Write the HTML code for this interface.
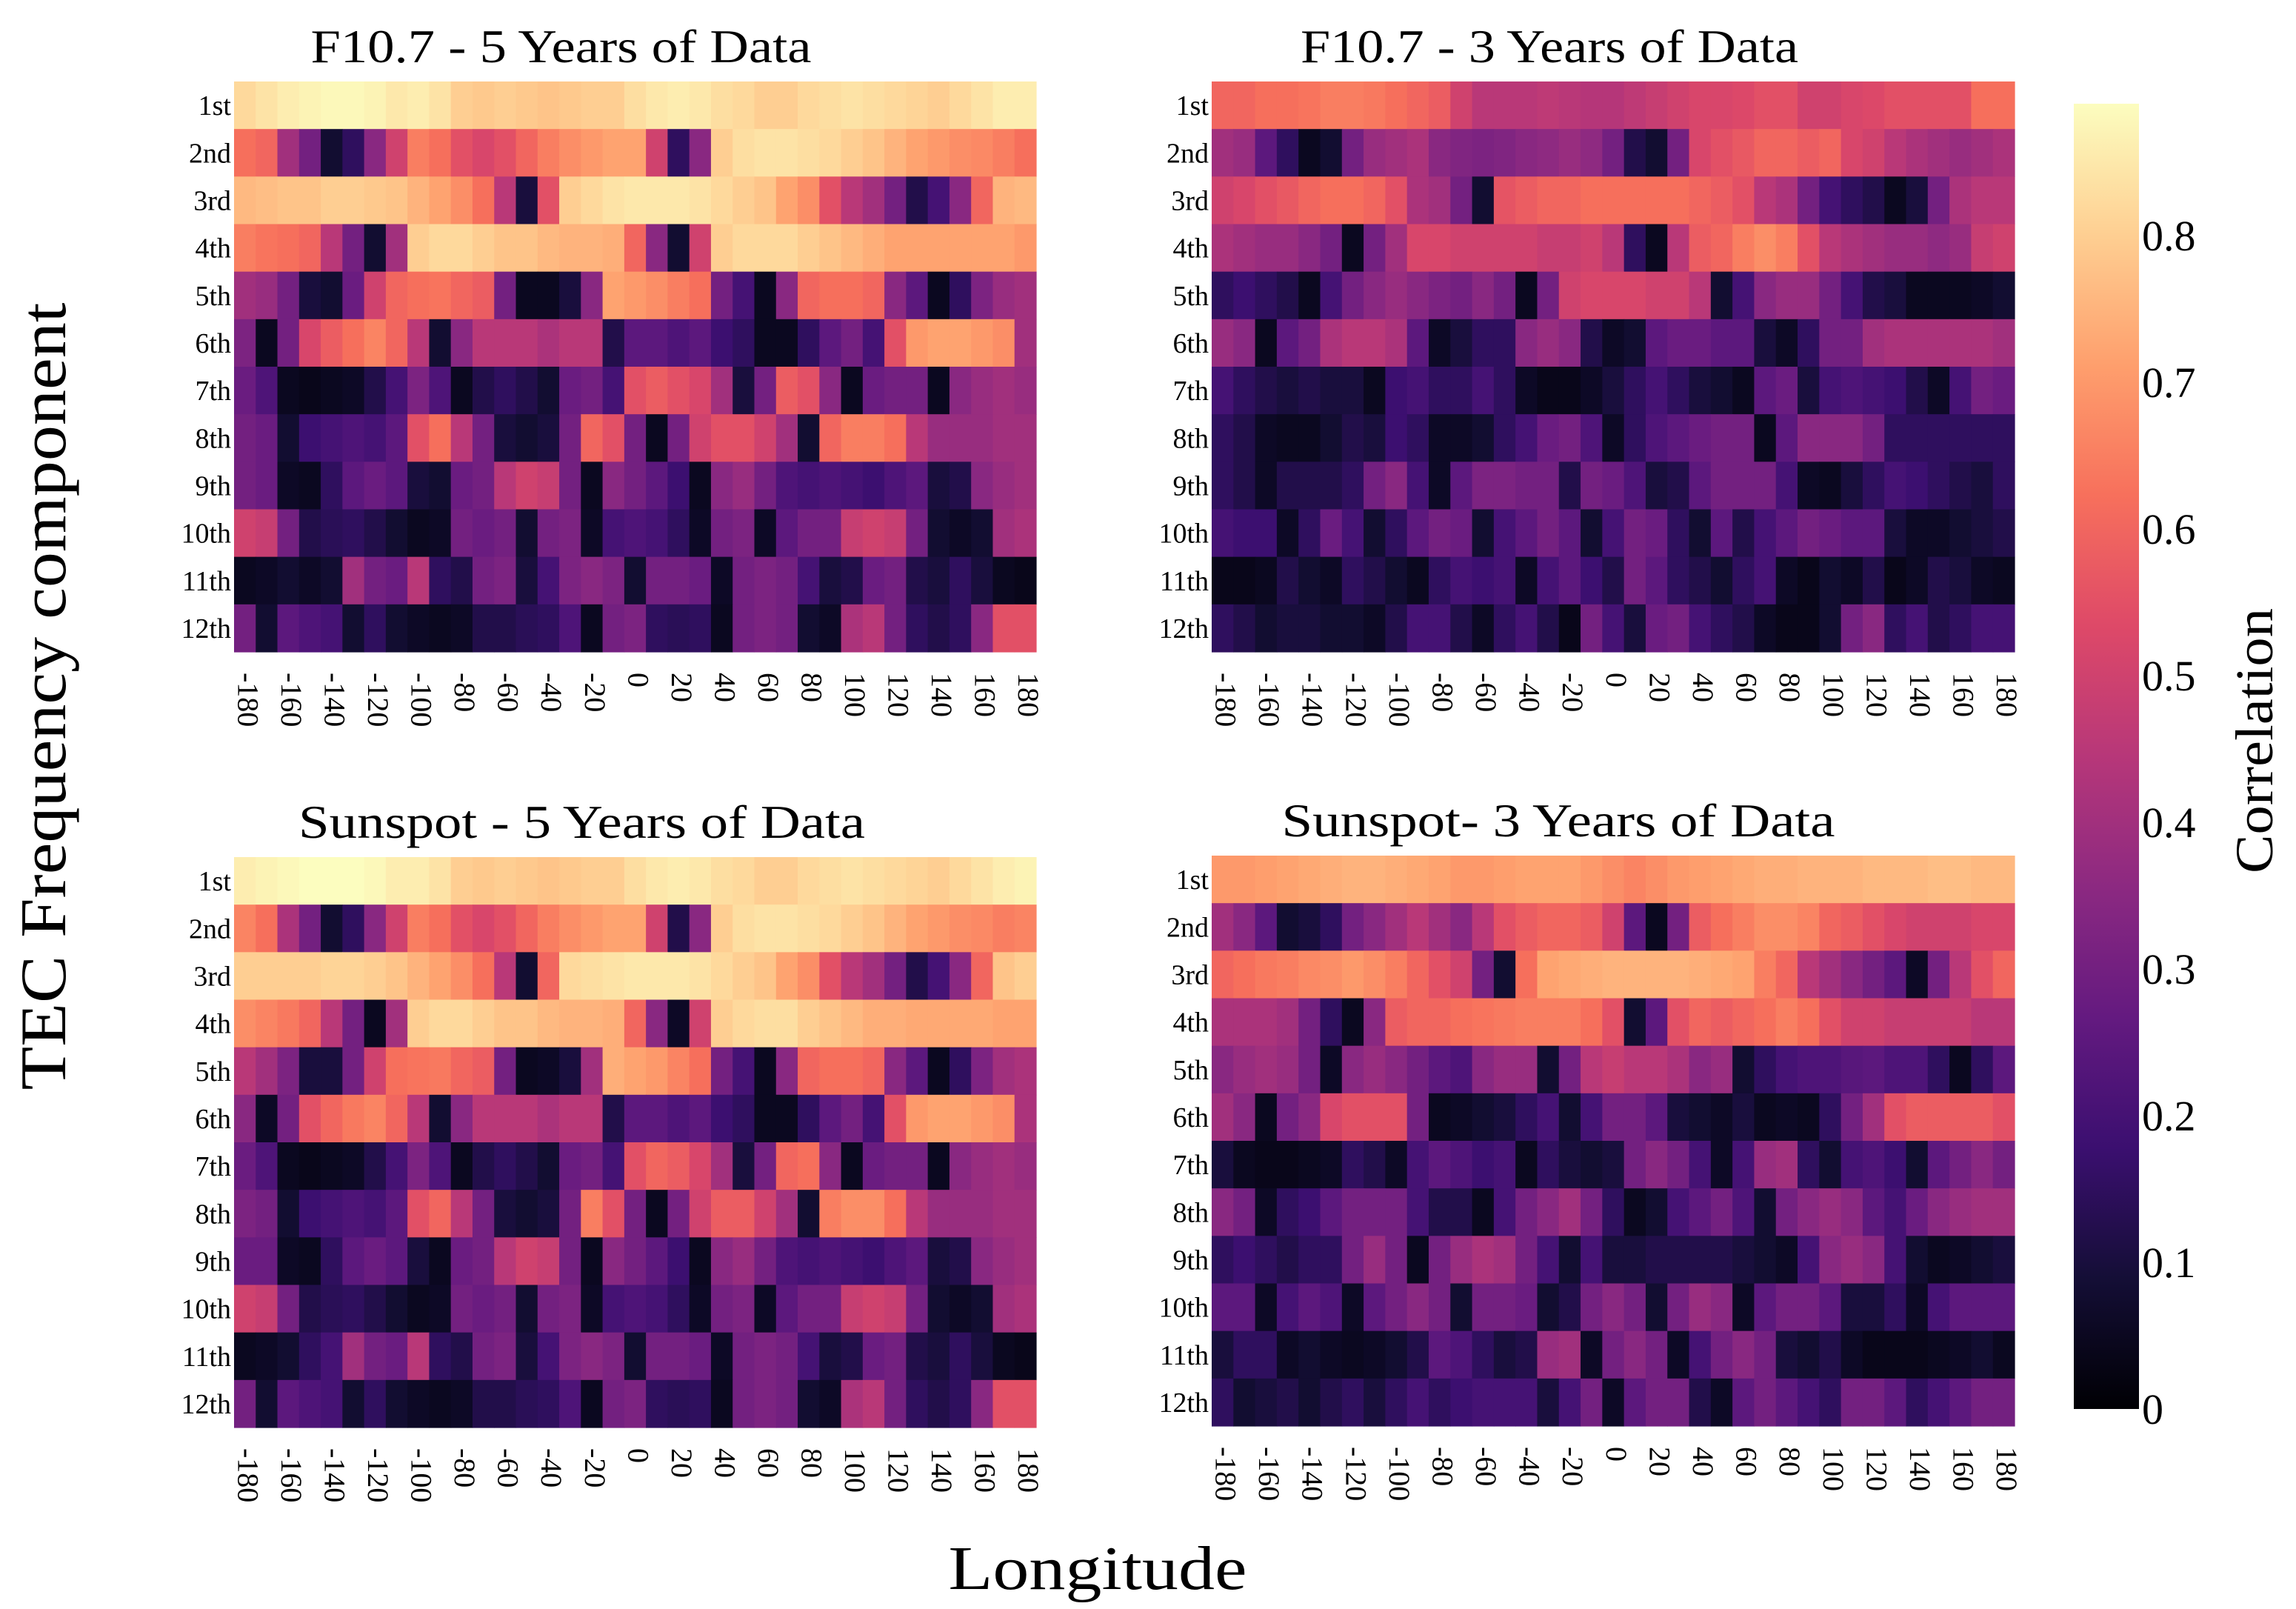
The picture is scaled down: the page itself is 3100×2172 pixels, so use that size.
<!DOCTYPE html>
<html><head><meta charset="utf-8">
<style>
html,body{margin:0;padding:0;background:#fff;}
svg{display:block;font-family:"Liberation Serif",serif;}
</style></head>
<body>
<svg id="fig" width="3100" height="2172" viewBox="0 0 3100 2172" xmlns="http://www.w3.org/2000/svg">
<rect width="3100" height="2172" fill="#fff"/>
<defs>
<linearGradient id="magma" x1="0" y1="1" x2="0" y2="0">
<stop offset="0" stop-color="#000004"/><stop offset="0.1" stop-color="#140e36"/><stop offset="0.2" stop-color="#3b0f70"/><stop offset="0.3" stop-color="#641a80"/><stop offset="0.4" stop-color="#8c2981"/><stop offset="0.5" stop-color="#b73779"/><stop offset="0.6" stop-color="#de4968"/><stop offset="0.7" stop-color="#f7705c"/><stop offset="0.8" stop-color="#fe9f6d"/><stop offset="0.9" stop-color="#fecf92"/><stop offset="1" stop-color="#fcfdbf"/>
</linearGradient>
</defs>
<g id="panels"></g>
<text x="0" y="0" transform="translate(88,940) rotate(-90)" text-anchor="middle" font-size="88" textLength="1063" lengthAdjust="spacingAndGlyphs">TEC Frequency component</text>
<text x="1482" y="2145" text-anchor="middle" font-size="84" textLength="403" lengthAdjust="spacingAndGlyphs">Longitude</text>
<g>
<rect x="2800" y="140" width="88" height="1762" fill="url(#magma)"/>
<g id="cbticks"></g>
<text transform="translate(3068,1000) rotate(-90)" text-anchor="middle" font-size="72" textLength="358" lengthAdjust="spacingAndGlyphs">Correlation</text>
</g>
</svg>
<script>
const rowLabels = ["1st","2nd","3rd","4th","5th","6th","7th","8th","9th","10th","11th","12th"];
const lonTicks = [-180,-160,-140,-120,-100,-80,-60,-40,-20,0,20,40,60,80,100,120,140,160,180];
const lonCells = [-180,-170,-160,-150,-140,-130,-120,-110,-100,-90,-80,-70,-60,-50,-40,-30,-20,-10,0,10,20,30,40,50,60,70,80,90,100,110,120,130,140,150,160,170,180];
const cbTicks = [0,0.1,0.2,0.3,0.4,0.5,0.6,0.7,0.8];
const cbTickLabels = ["0","0.1","0.2","0.3","0.4","0.5","0.6","0.7","0.8"];
const titles = ["F10.7 - 5 Years of Data","F10.7 - 3 Years of Data","Sunspot - 5 Years of Data","Sunspot- 3 Years of Data"];

const f10_5yr = [
[0.82,0.84,0.86,0.87,0.88,0.88,0.87,0.85,0.86,0.84,0.8,0.79,0.8,0.79,0.78,0.79,0.8,0.8,0.83,0.85,0.86,0.85,0.83,0.82,0.8,0.8,0.82,0.83,0.84,0.83,0.82,0.81,0.8,0.82,0.84,0.86,0.86],
[0.62,0.6,0.4,0.3,0.08,0.15,0.35,0.5,0.65,0.62,0.55,0.52,0.55,0.6,0.65,0.68,0.7,0.72,0.72,0.5,0.15,0.35,0.8,0.83,0.84,0.84,0.83,0.82,0.8,0.78,0.75,0.72,0.7,0.68,0.67,0.65,0.62],
[0.76,0.77,0.78,0.78,0.8,0.8,0.79,0.78,0.75,0.72,0.68,0.62,0.45,0.1,0.55,0.8,0.82,0.84,0.85,0.85,0.85,0.84,0.82,0.8,0.78,0.72,0.68,0.55,0.45,0.4,0.3,0.12,0.2,0.35,0.6,0.75,0.76],
[0.65,0.63,0.62,0.6,0.45,0.3,0.08,0.4,0.8,0.82,0.82,0.8,0.78,0.78,0.76,0.75,0.75,0.74,0.6,0.35,0.08,0.5,0.8,0.82,0.82,0.82,0.8,0.78,0.76,0.74,0.72,0.72,0.72,0.72,0.72,0.72,0.7],
[0.4,0.38,0.3,0.1,0.08,0.28,0.5,0.6,0.62,0.63,0.6,0.58,0.3,0.05,0.05,0.1,0.35,0.72,0.7,0.68,0.65,0.62,0.3,0.2,0.05,0.35,0.6,0.62,0.62,0.6,0.35,0.25,0.05,0.15,0.32,0.38,0.4],
[0.32,0.05,0.3,0.52,0.58,0.62,0.66,0.6,0.45,0.08,0.35,0.45,0.45,0.45,0.42,0.45,0.45,0.12,0.25,0.25,0.22,0.25,0.18,0.15,0.05,0.05,0.15,0.25,0.3,0.2,0.55,0.7,0.72,0.72,0.7,0.68,0.4],
[0.28,0.22,0.05,0.04,0.05,0.06,0.12,0.2,0.32,0.22,0.05,0.12,0.15,0.12,0.08,0.28,0.3,0.2,0.55,0.58,0.55,0.52,0.4,0.1,0.3,0.58,0.55,0.35,0.05,0.28,0.3,0.3,0.05,0.35,0.38,0.4,0.38],
[0.3,0.28,0.08,0.18,0.2,0.22,0.2,0.25,0.55,0.62,0.45,0.3,0.1,0.08,0.1,0.3,0.6,0.55,0.3,0.05,0.3,0.5,0.55,0.55,0.5,0.4,0.08,0.6,0.65,0.65,0.62,0.45,0.38,0.38,0.38,0.4,0.4],
[0.3,0.28,0.06,0.05,0.15,0.25,0.28,0.25,0.1,0.08,0.28,0.3,0.45,0.5,0.48,0.3,0.05,0.35,0.3,0.25,0.18,0.05,0.35,0.38,0.3,0.22,0.2,0.22,0.2,0.18,0.22,0.25,0.1,0.12,0.35,0.38,0.4],
[0.5,0.48,0.3,0.12,0.14,0.15,0.12,0.08,0.05,0.06,0.3,0.28,0.3,0.08,0.3,0.32,0.06,0.2,0.22,0.2,0.15,0.06,0.3,0.32,0.06,0.25,0.3,0.3,0.48,0.5,0.48,0.3,0.08,0.06,0.08,0.4,0.42],
[0.05,0.06,0.08,0.06,0.08,0.4,0.3,0.28,0.45,0.15,0.12,0.3,0.32,0.1,0.2,0.32,0.35,0.32,0.08,0.3,0.3,0.28,0.06,0.3,0.32,0.3,0.2,0.1,0.12,0.28,0.3,0.12,0.1,0.15,0.1,0.05,0.04],
[0.3,0.08,0.25,0.22,0.2,0.08,0.15,0.08,0.06,0.05,0.06,0.12,0.12,0.14,0.15,0.22,0.05,0.3,0.32,0.15,0.14,0.15,0.05,0.3,0.32,0.3,0.08,0.06,0.42,0.45,0.3,0.15,0.12,0.15,0.35,0.55,0.55]
];
const f10_3yr = [
[0.6,0.6,0.62,0.62,0.63,0.65,0.65,0.64,0.62,0.6,0.58,0.5,0.45,0.45,0.45,0.46,0.45,0.44,0.44,0.46,0.48,0.5,0.52,0.52,0.53,0.55,0.55,0.5,0.5,0.52,0.53,0.55,0.55,0.55,0.55,0.62,0.62],
[0.4,0.38,0.25,0.15,0.05,0.08,0.3,0.38,0.4,0.42,0.35,0.33,0.32,0.33,0.35,0.36,0.38,0.36,0.3,0.12,0.08,0.3,0.52,0.55,0.57,0.6,0.6,0.58,0.6,0.52,0.5,0.45,0.42,0.4,0.38,0.4,0.42],
[0.5,0.52,0.55,0.57,0.6,0.62,0.62,0.6,0.55,0.42,0.4,0.3,0.08,0.56,0.58,0.6,0.6,0.62,0.62,0.62,0.62,0.62,0.6,0.58,0.55,0.45,0.42,0.3,0.2,0.15,0.12,0.05,0.1,0.3,0.42,0.45,0.45],
[0.42,0.4,0.38,0.38,0.35,0.3,0.05,0.3,0.4,0.52,0.52,0.5,0.5,0.5,0.5,0.48,0.48,0.5,0.45,0.15,0.05,0.45,0.58,0.6,0.65,0.68,0.65,0.55,0.45,0.42,0.4,0.38,0.38,0.36,0.38,0.48,0.5],
[0.15,0.18,0.15,0.12,0.05,0.2,0.3,0.35,0.38,0.35,0.32,0.3,0.35,0.3,0.05,0.3,0.5,0.52,0.52,0.52,0.5,0.5,0.45,0.08,0.2,0.35,0.38,0.38,0.3,0.2,0.12,0.1,0.05,0.05,0.05,0.06,0.08],
[0.38,0.35,0.05,0.25,0.3,0.42,0.45,0.45,0.42,0.25,0.06,0.1,0.15,0.15,0.35,0.38,0.35,0.12,0.06,0.08,0.25,0.28,0.28,0.25,0.25,0.1,0.06,0.15,0.3,0.3,0.4,0.42,0.42,0.42,0.42,0.42,0.4],
[0.2,0.15,0.12,0.1,0.12,0.1,0.1,0.05,0.18,0.2,0.15,0.15,0.2,0.15,0.06,0.04,0.04,0.06,0.1,0.15,0.2,0.15,0.1,0.08,0.05,0.25,0.28,0.1,0.2,0.22,0.2,0.18,0.12,0.06,0.2,0.3,0.28],
[0.15,0.12,0.06,0.05,0.05,0.08,0.12,0.1,0.18,0.15,0.06,0.06,0.08,0.15,0.2,0.28,0.3,0.22,0.06,0.15,0.22,0.25,0.28,0.3,0.3,0.05,0.25,0.35,0.35,0.35,0.3,0.15,0.15,0.15,0.15,0.15,0.15],
[0.15,0.12,0.06,0.12,0.12,0.12,0.15,0.3,0.35,0.2,0.06,0.25,0.32,0.32,0.3,0.3,0.12,0.3,0.28,0.22,0.1,0.12,0.25,0.3,0.3,0.3,0.2,0.06,0.05,0.1,0.15,0.2,0.18,0.15,0.12,0.1,0.15],
[0.2,0.18,0.18,0.06,0.15,0.28,0.2,0.08,0.15,0.25,0.3,0.28,0.08,0.2,0.25,0.3,0.25,0.08,0.2,0.3,0.28,0.15,0.08,0.25,0.12,0.2,0.25,0.3,0.28,0.25,0.25,0.1,0.06,0.06,0.08,0.1,0.12],
[0.04,0.04,0.05,0.12,0.08,0.06,0.15,0.12,0.08,0.05,0.15,0.2,0.18,0.2,0.06,0.2,0.25,0.18,0.12,0.3,0.25,0.15,0.12,0.08,0.15,0.2,0.06,0.04,0.08,0.06,0.12,0.04,0.06,0.12,0.1,0.06,0.05],
[0.15,0.12,0.08,0.1,0.1,0.08,0.08,0.06,0.12,0.2,0.2,0.12,0.06,0.15,0.2,0.12,0.04,0.3,0.2,0.1,0.28,0.3,0.2,0.15,0.12,0.06,0.04,0.04,0.08,0.3,0.35,0.15,0.2,0.12,0.15,0.2,0.2]
];
const ss_5yr = [
[0.86,0.87,0.88,0.89,0.89,0.89,0.88,0.86,0.86,0.84,0.8,0.79,0.8,0.79,0.78,0.79,0.8,0.8,0.83,0.85,0.86,0.85,0.83,0.82,0.8,0.8,0.82,0.83,0.84,0.83,0.82,0.81,0.8,0.82,0.84,0.86,0.87],
[0.66,0.62,0.42,0.3,0.08,0.15,0.35,0.5,0.65,0.62,0.55,0.52,0.55,0.6,0.65,0.68,0.7,0.72,0.72,0.5,0.12,0.35,0.8,0.83,0.84,0.84,0.83,0.82,0.8,0.78,0.75,0.72,0.7,0.68,0.67,0.65,0.66],
[0.8,0.8,0.8,0.8,0.81,0.81,0.8,0.78,0.75,0.72,0.68,0.62,0.45,0.08,0.6,0.82,0.83,0.84,0.85,0.85,0.85,0.84,0.82,0.8,0.78,0.72,0.68,0.55,0.45,0.4,0.3,0.12,0.2,0.35,0.6,0.78,0.8],
[0.68,0.66,0.64,0.6,0.45,0.3,0.05,0.4,0.8,0.82,0.82,0.8,0.78,0.78,0.76,0.75,0.75,0.74,0.6,0.35,0.06,0.5,0.8,0.82,0.83,0.83,0.8,0.78,0.76,0.74,0.74,0.73,0.73,0.73,0.73,0.72,0.72],
[0.45,0.4,0.32,0.1,0.1,0.3,0.5,0.62,0.63,0.64,0.6,0.58,0.3,0.05,0.06,0.1,0.4,0.74,0.72,0.7,0.66,0.62,0.3,0.2,0.05,0.35,0.6,0.62,0.62,0.6,0.35,0.25,0.05,0.15,0.32,0.4,0.42],
[0.35,0.06,0.3,0.55,0.6,0.64,0.66,0.6,0.45,0.08,0.35,0.45,0.45,0.45,0.42,0.45,0.45,0.12,0.25,0.25,0.22,0.25,0.18,0.15,0.05,0.05,0.15,0.25,0.3,0.2,0.55,0.7,0.72,0.72,0.7,0.68,0.42],
[0.28,0.22,0.05,0.04,0.05,0.06,0.12,0.2,0.32,0.22,0.05,0.12,0.15,0.12,0.08,0.28,0.3,0.2,0.55,0.6,0.58,0.52,0.4,0.1,0.3,0.6,0.62,0.35,0.05,0.28,0.3,0.3,0.05,0.35,0.38,0.4,0.38],
[0.32,0.3,0.08,0.18,0.2,0.22,0.2,0.25,0.55,0.6,0.45,0.3,0.1,0.08,0.1,0.3,0.65,0.55,0.3,0.05,0.3,0.5,0.58,0.58,0.5,0.4,0.08,0.65,0.68,0.68,0.62,0.45,0.38,0.38,0.38,0.4,0.4],
[0.28,0.28,0.06,0.05,0.15,0.25,0.28,0.25,0.1,0.05,0.28,0.3,0.45,0.5,0.48,0.3,0.05,0.35,0.3,0.25,0.18,0.05,0.35,0.38,0.3,0.22,0.2,0.22,0.2,0.18,0.22,0.25,0.1,0.12,0.35,0.38,0.4],
[0.5,0.48,0.3,0.12,0.14,0.15,0.12,0.08,0.05,0.06,0.3,0.28,0.3,0.08,0.3,0.32,0.06,0.2,0.22,0.2,0.15,0.06,0.3,0.32,0.06,0.25,0.3,0.3,0.48,0.5,0.48,0.3,0.08,0.06,0.08,0.4,0.42],
[0.05,0.06,0.08,0.15,0.2,0.4,0.3,0.28,0.45,0.15,0.12,0.3,0.32,0.1,0.2,0.32,0.35,0.32,0.08,0.3,0.3,0.28,0.06,0.3,0.32,0.3,0.2,0.1,0.12,0.28,0.3,0.12,0.1,0.15,0.1,0.05,0.04],
[0.3,0.08,0.25,0.22,0.2,0.08,0.15,0.08,0.06,0.05,0.06,0.12,0.12,0.14,0.15,0.22,0.05,0.3,0.32,0.15,0.14,0.15,0.05,0.3,0.32,0.3,0.08,0.06,0.42,0.45,0.3,0.15,0.12,0.15,0.35,0.55,0.55]
];
const ss_3yr = [
[0.7,0.7,0.71,0.72,0.73,0.74,0.75,0.75,0.74,0.73,0.72,0.7,0.7,0.71,0.72,0.72,0.72,0.7,0.68,0.66,0.68,0.7,0.71,0.72,0.73,0.74,0.74,0.75,0.75,0.75,0.76,0.76,0.76,0.77,0.77,0.76,0.76],
[0.4,0.35,0.25,0.08,0.1,0.15,0.3,0.35,0.4,0.45,0.4,0.35,0.45,0.55,0.58,0.6,0.6,0.58,0.5,0.25,0.05,0.3,0.58,0.62,0.65,0.68,0.68,0.66,0.6,0.58,0.55,0.52,0.5,0.5,0.5,0.52,0.52],
[0.6,0.62,0.64,0.65,0.67,0.68,0.7,0.68,0.65,0.6,0.55,0.5,0.3,0.08,0.62,0.72,0.73,0.74,0.75,0.75,0.75,0.75,0.74,0.73,0.72,0.65,0.6,0.45,0.4,0.35,0.3,0.25,0.06,0.3,0.45,0.55,0.6],
[0.42,0.42,0.42,0.4,0.3,0.15,0.05,0.35,0.58,0.6,0.6,0.62,0.63,0.64,0.65,0.65,0.65,0.62,0.55,0.08,0.25,0.55,0.6,0.58,0.6,0.62,0.65,0.62,0.55,0.5,0.5,0.48,0.48,0.48,0.48,0.45,0.45],
[0.35,0.38,0.4,0.38,0.3,0.06,0.35,0.38,0.35,0.3,0.25,0.22,0.35,0.38,0.38,0.08,0.3,0.45,0.48,0.45,0.45,0.42,0.35,0.38,0.08,0.15,0.2,0.22,0.22,0.24,0.25,0.22,0.22,0.15,0.05,0.15,0.25],
[0.4,0.35,0.05,0.3,0.35,0.52,0.55,0.55,0.55,0.3,0.05,0.06,0.08,0.1,0.15,0.2,0.08,0.2,0.3,0.3,0.25,0.1,0.08,0.06,0.1,0.05,0.06,0.05,0.15,0.3,0.4,0.55,0.58,0.58,0.58,0.58,0.55],
[0.1,0.05,0.04,0.04,0.05,0.06,0.15,0.12,0.06,0.2,0.25,0.22,0.18,0.2,0.05,0.15,0.1,0.08,0.1,0.3,0.35,0.3,0.2,0.06,0.2,0.38,0.4,0.15,0.08,0.2,0.22,0.18,0.08,0.25,0.3,0.35,0.3],
[0.35,0.3,0.06,0.15,0.18,0.25,0.3,0.3,0.3,0.2,0.12,0.12,0.05,0.2,0.3,0.35,0.4,0.3,0.15,0.05,0.08,0.2,0.25,0.3,0.22,0.08,0.3,0.35,0.38,0.35,0.25,0.2,0.28,0.35,0.38,0.4,0.4],
[0.15,0.18,0.15,0.12,0.15,0.15,0.3,0.38,0.3,0.05,0.3,0.38,0.42,0.4,0.3,0.2,0.08,0.2,0.1,0.1,0.12,0.12,0.12,0.12,0.1,0.08,0.06,0.2,0.35,0.38,0.35,0.2,0.08,0.05,0.06,0.08,0.1],
[0.25,0.25,0.06,0.2,0.25,0.22,0.06,0.25,0.3,0.35,0.3,0.08,0.3,0.3,0.28,0.08,0.12,0.3,0.35,0.3,0.08,0.3,0.38,0.35,0.06,0.25,0.3,0.3,0.25,0.1,0.1,0.15,0.06,0.2,0.25,0.25,0.25],
[0.1,0.15,0.15,0.06,0.08,0.06,0.05,0.06,0.08,0.12,0.25,0.22,0.15,0.1,0.12,0.38,0.4,0.06,0.3,0.35,0.3,0.06,0.2,0.3,0.35,0.3,0.1,0.08,0.12,0.06,0.04,0.04,0.04,0.05,0.06,0.08,0.05],
[0.15,0.08,0.1,0.12,0.08,0.12,0.15,0.1,0.15,0.2,0.15,0.18,0.2,0.2,0.2,0.1,0.2,0.3,0.06,0.25,0.3,0.3,0.12,0.06,0.25,0.3,0.25,0.2,0.15,0.3,0.3,0.25,0.15,0.2,0.25,0.3,0.3]
];

const VMAX = 0.89;
const CB_TOP = 140, CB_BOT = 1902;
const stops = [[0,0,0,4],[0.1,20,14,54],[0.2,59,15,112],[0.3,100,26,128],[0.4,140,41,129],[0.5,183,55,121],[0.6,222,73,104],[0.7,247,112,92],[0.8,254,159,109],[0.9,254,207,146],[1,252,253,191]];
function magma(v){
  let t = Math.max(0, Math.min(1, v / VMAX));
  for (let i = 1; i < stops.length; i++){
    if (t <= stops[i][0]){
      const a = stops[i-1], b = stops[i], f = (t - a[0]) / (b[0] - a[0]);
      return `rgb(${Math.round(a[1]+f*(b[1]-a[1]))},${Math.round(a[2]+f*(b[2]-a[2]))},${Math.round(a[3]+f*(b[3]-a[3]))})`;
    }
  }
  return 'rgb(252,253,191)';
}
const NS = 'http://www.w3.org/2000/svg';
function mk(tag, attrs, parent){
  const e = document.createElementNS(NS, tag);
  for (const k in attrs) e.setAttribute(k, attrs[k]);
  parent.appendChild(e);
  return e;
}
const panelsDef = [
  {data:f10_5yr, x:316, y:110, w:1083, h:770, name:'f107-5yr', tdx:-100, tlen:676},
  {data:f10_3yr, x:1636, y:110, w:1084, h:770, name:'f107-3yr', tdx:-86, tlen:672},
  {data:ss_5yr, x:316, y:1157, w:1083, h:770, name:'sunspot-5yr', tdx:-72, tlen:765},
  {data:ss_3yr, x:1636, y:1155, w:1084, h:770, name:'sunspot-3yr', tdx:-74, tlen:747}
];
const root = document.getElementById('panels');
panelsDef.forEach((p, pi) => {
  const g = mk('g', {}, root);
  
  
  const nC = lonCells.length, nR = rowLabels.length;
  const cw = p.w / nC, rh = p.h / nR;
  const xScale = lon => p.x + (lon - lonCells[0]) / (lonCells[nC-1] - lonCells[0]) * (p.w - cw);
  const yScale = r => p.y + r * rh;
  p.data.forEach((row, r) => {
    row.forEach((v, c) => {
      const cell = mk('rect', {x: xScale(lonCells[c]).toFixed(2), y: yScale(r).toFixed(2), width: (cw + 0.6).toFixed(2), height: (rh + 0.6).toFixed(2), fill: magma(v)}, g);
      
      
    });
    const lab = mk('text', {x: p.x - 4, y: yScale(r) + rh / 2 + 13, 'text-anchor': 'end', 'font-size': 38}, g);
    lab.textContent = rowLabels[r];
    
    
  });
  lonTicks.forEach(t => {
    const tx = xScale(t) + cw / 2;
    const ty = p.y + p.h + 28;
    const tl = mk('text', {x: tx, y: ty, transform: `rotate(90 ${tx} ${ty})`, 'text-anchor': 'start', 'dominant-baseline': 'middle', 'font-size': 40}, g);
    tl.textContent = String(t);
    
    
  });
  const title = mk('text', {x: p.x + p.w / 2 + p.tdx, y: p.y - 26, 'text-anchor': 'middle', 'font-size': 64, textLength: p.tlen, lengthAdjust: 'spacingAndGlyphs'}, g);
  title.textContent = titles[pi];
  
  
});
const cb = document.getElementById('cbticks');
cbTicks.forEach((t, i) => {
  const y = CB_BOT - t / VMAX * (CB_BOT - CB_TOP);
  const tl = mk('text', {x: 2892, y: y + 20, 'font-size': 58}, cb);
  tl.textContent = cbTickLabels[i];
  
  
});
</script>
</body></html>
